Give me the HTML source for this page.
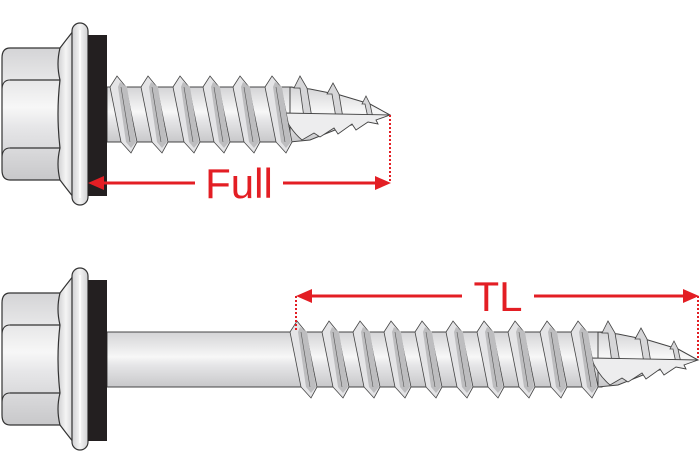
<!DOCTYPE html>
<html><head><meta charset="utf-8"><style>
html,body{margin:0;padding:0;background:#fff;}
svg{display:block}
</style></head><body>
<svg width="700" height="476" viewBox="0 0 700 476" xmlns="http://www.w3.org/2000/svg">
<defs>
<linearGradient id="g" x1="0" y1="0" x2="0" y2="1">
<stop offset="0" stop-color="#d4d4d6"/><stop offset="0.45" stop-color="#f7f7f7"/><stop offset="0.6" stop-color="#e6e6e8"/><stop offset="1" stop-color="#c8c8ca"/>
</linearGradient>
<linearGradient id="gh" x1="0" y1="0" x2="1" y2="0">
<stop offset="0" stop-color="#d0d0d2"/><stop offset="0.5" stop-color="#f5f5f5"/><stop offset="1" stop-color="#cfcfd1"/>
</linearGradient>
<g id="head">
<path d="M10,48 H60 V180 H10 Q2,180 2,170 V58 Q2,48 10,48Z" fill="url(#g)" stroke="#333" stroke-width="1.2"/>
<path d="M10,80 H60 M10,148 H60" stroke="#333" stroke-width="1.2" fill="none"/>
<path d="M2,90 Q2,80 10,80 M2,158 Q2,148 10,148" stroke="#333" fill="none"/>
<path d="M60,48 Q66,40 74,30 L74,198 Q66,188 60,180 Q56,164 60,148 Q56,114 60,80 Q56,64 60,48Z" fill="url(#gh)" stroke="#333" stroke-width="1.2"/>
<rect x="72" y="23" width="16" height="182" rx="8" fill="url(#gh)" stroke="#333" stroke-width="1.2"/>
<line x1="80" y1="30" x2="80" y2="198" stroke="#fff" stroke-width="1.5"/>
<rect x="88" y="35" width="19" height="161" fill="#231f20"/>
</g>
<g id="thr">
<polygon points="0,76 9,87 20,142 14,153 4,142 -7,87" fill="#e4e4e6" stroke="#444" stroke-width="0.8"/>
<polygon points="3,82 10,87 19,142 14,148 9,142 1,87" fill="#bdbdbf" stroke="none"/>
<line x1="4" y1="87" x2="13" y2="142" stroke="#555" stroke-width="0.6"/>
</g>
<g id="tip">
<polygon points="0,87 20,89 50,95 80,104 100,115 80,120 50,128 20,140 0,142" fill="url(#g)" stroke="#444" stroke-width="1"/>
<polygon points="10,76 17,88 22,118 14,118 10,88 4,88" fill="#d6d6d8" stroke="#444" stroke-width="0.8"/>
<polygon points="43,83 49,94 53,118 46,118 42,94 37,94" fill="#d6d6d8" stroke="#444" stroke-width="0.8"/>
<polygon points="76,96 80,104 83,118 78,118 75,104 72,104" fill="#d6d6d8" stroke="#444" stroke-width="0.8"/>
<path d="M-7,113 L100,115 L86,120 L88,124 L78,122 L66,130 L62,124 L48,134 L44,128 L30,137 L24,133 L12,140 Q0,130 -7,113Z" fill="#ededee" stroke="#444" stroke-width="0.9"/>
</g>
</defs>

<rect x="107" y="87" width="185" height="55" fill="url(#g)" stroke="#444" stroke-width="1"/>
<use href="#tip" transform="translate(290,0)"/>
<use href="#head"/>
<use href="#thr" transform="translate(117,0)"/>
<use href="#thr" transform="translate(148,0)"/>
<use href="#thr" transform="translate(180,0)"/>
<use href="#thr" transform="translate(210,0)"/>
<use href="#thr" transform="translate(240,0)"/>
<use href="#thr" transform="translate(272,0)"/>
<line x1="390" y1="115" x2="390" y2="183" stroke="#e31e24" stroke-width="2" stroke-dasharray="2,2"/>
<line x1="100" y1="183" x2="195" y2="183" stroke="#e31e24" stroke-width="3"/>
<line x1="283" y1="183" x2="378" y2="183" stroke="#e31e24" stroke-width="3"/>
<polygon points="88,183 104,176 104,190" fill="#e31e24"/>
<polygon points="391,183 375,176 375,190" fill="#e31e24"/>
<text x="239" y="198" font-family="Liberation Sans, sans-serif" font-size="42" fill="#e31e24" text-anchor="middle">Full</text>

<g transform="translate(0,245)">
<rect x="107" y="87" width="495" height="55" fill="url(#g)" stroke="#444" stroke-width="1"/>
<use href="#tip" transform="translate(598,0)"/>
<use href="#head"/>
<use href="#thr" transform="translate(297,0)"/>
<use href="#thr" transform="translate(329,0)"/>
<use href="#thr" transform="translate(360,0)"/>
<use href="#thr" transform="translate(391,0)"/>
<use href="#thr" transform="translate(422,0)"/>
<use href="#thr" transform="translate(453,0)"/>
<use href="#thr" transform="translate(484,0)"/>
<use href="#thr" transform="translate(515,0)"/>
<use href="#thr" transform="translate(547,0)"/>
<use href="#thr" transform="translate(578,0)"/>
</g>
<line x1="296" y1="296" x2="296" y2="332" stroke="#e31e24" stroke-width="2" stroke-dasharray="2,2"/>
<line x1="698" y1="296" x2="698" y2="359" stroke="#e31e24" stroke-width="2" stroke-dasharray="2,2"/>
<line x1="308" y1="296" x2="462" y2="296" stroke="#e31e24" stroke-width="3"/>
<line x1="534" y1="296" x2="686" y2="296" stroke="#e31e24" stroke-width="3"/>
<polygon points="296,296 312,289 312,303" fill="#e31e24"/>
<polygon points="699,296 683,289 683,303" fill="#e31e24"/>
<text x="498" y="311" font-family="Liberation Sans, sans-serif" font-size="42" fill="#e31e24" text-anchor="middle">TL</text>
</svg>
</body></html>
